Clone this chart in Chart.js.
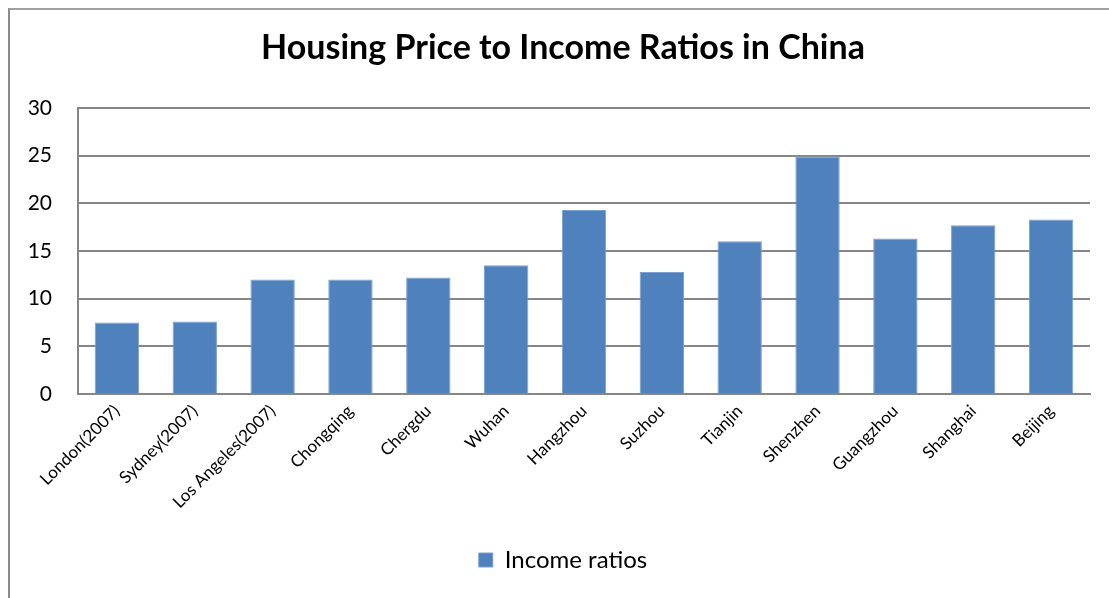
<!DOCTYPE html>
<html>
<head>
<meta charset="utf-8">
<script src="https://cdn.jsdelivr.net/npm/chart.js@4"></script>
<style>
  html, body { margin: 0; padding: 0; background: #fff; width: 1109px; height: 598px; overflow: hidden; }
  #frame { position: absolute; left: 8px; top: 8px; width: 1101px; height: 590px;
           border-left: 2px solid #8a8a8a; border-top: 2px solid #a0a0a0; box-sizing: border-box; }
  #wrap { position: absolute; left: 10px; top: 10px; width: 1099px; height: 588px; }
</style>
</head>
<body>
<div id="frame"></div>
<div id="wrap"><canvas id="c" width="1099" height="588"></canvas></div>
<script>
const categories = ["London(2007)", "Sydney(2007)", "Los Angeles(2007)", "Chongqing", "Chergdu", "Wuhan", "Hangzhou", "Suzhou", "Tianjin", "Shenzhen", "Guangzhou", "Shanghai", "Beijing"];
const incomeRatios = [7.5, 7.6, 12.0, 12.0, 12.2, 13.5, 19.3, 12.8, 16.0, 24.9, 16.3, 17.7, 18.3];
const seriesName = "Income ratios";
const chartTitle = "Housing Price to Income Ratios in China";
const yTicks = [0, 5, 10, 15, 20, 25, 30];

const FONT = "Lato, 'Open Sans', 'Liberation Sans', sans-serif";
new Chart(document.getElementById('c'), {
  type: 'bar',
  data: {
    labels: categories,
    datasets: [{
      label: seriesName,
      data: incomeRatios,
      backgroundColor: '#4F81BD',
      borderColor: '#7BA0CF',
      borderWidth: 1,
      barPercentage: 0.57,
      categoryPercentage: 1.0,
      yAxisID: 'y'
    }]
  },
  options: {
    responsive: false,
    animation: false,
    devicePixelRatio: 1,
    layout: { padding: { left: 7, right: 0, top: 0, bottom: 16 } },
    plugins: {
      title: {
        display: true,
        text: chartTitle,
        color: '#000',
        font: { family: FONT, size: 34, weight: 'bold' },
        padding: { top: 18, bottom: 39 }
      },
      legend: {
        display: true,
        position: 'bottom',
        labels: {
          color: '#000',
          font: { family: FONT, size: 24 },
          boxWidth: 14,
          boxHeight: 14,
          padding: 10
        }
      },
      tooltip: { enabled: false }
    },
    scales: {
      x: {
        grid: { display: false, drawTicks: false },
        border: { display: true, color: '#868686', width: 2 },
        ticks: {
          color: '#000',
          font: { family: FONT, size: 17 },
          minRotation: 45,
          maxRotation: 45,
          padding: 7,
          autoSkip: false
        },
        afterFit: (s) => { s.height = 144; }
      },
      y: {
        min: 0,
        max: 30,
        afterBuildTicks: (s) => { s.ticks = yTicks.map(v => ({ value: v })); },
        grid: { color: '#868686', lineWidth: 2, drawTicks: false },
        border: { display: true, color: '#868686', width: 2 },
        ticks: {
          color: '#000',
          font: { family: FONT, size: 21 },
          padding: 26
        },
        afterFit: (s) => { s.width = 61; }
      },
      y2: {
        position: 'right',
        min: 0,
        max: 30,
        grid: { display: false, drawTicks: false },
        border: { display: false },
        ticks: { display: false },
        afterFit: (s) => { s.width = 19; }
      }
    }
  }
});
</script>
</body>
</html>
